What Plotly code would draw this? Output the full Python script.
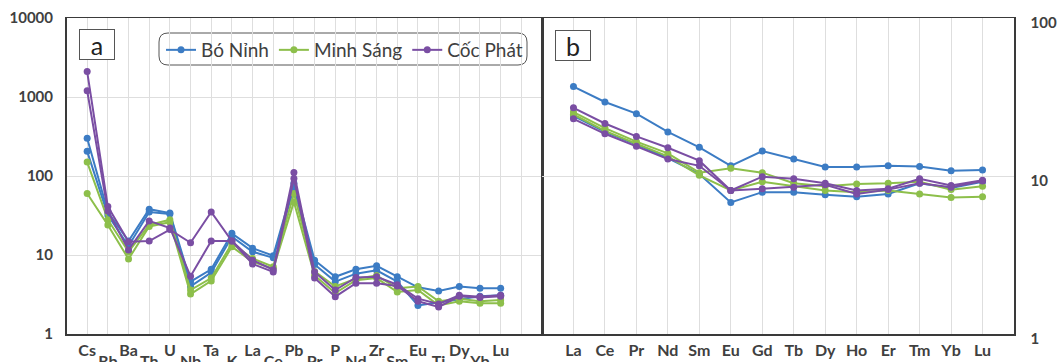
import plotly.graph_objects as go

# ---------------- data ----------------
spider_elements = ["Cs", "Rb", "Ba", "Th", "U", "Nb", "Ta", "K", "La", "Ce", "Pb",
                   "Pr", "P", "Nd", "Zr", "Sm", "Eu", "Ti", "Dy", "Yb", "Lu"]
ree_elements = ["La", "Ce", "Pr", "Nd", "Sm", "Eu", "Gd", "Tb", "Dy", "Ho", "Er", "Tm", "Yb", "Lu"]

group_names = ["Bó Nỉnh", "Minh Sáng", "Cốc Phát"]

# primitive-mantle normalised spider diagram (panel a)
bn_spider_1 = [300, 35, 15, 38, 34, 4.6, 6.6, 18.8, 12.2, 9.8, 81, 8.6, 5.3, 6.6, 7.3, 5.3, 3.9, 3.5, 4.0, 3.8, 3.8]
bn_spider_2 = [205, 32, 13, 35, 33, 4.0, 6.0, 17, 11, 9.2, 70, 7.6, 4.6, 5.8, 6.4, 4.6, 2.3, 2.5, 2.7, 3.0, 3.1]
ms_spider_1 = [150, 28, 11, 24, 28, 3.6, 5.1, 14, 9.0, 7.1, 60, 6.2, 4.0, 5.0, 5.5, 3.8, 4.0, 2.6, 2.8, 2.6, 2.7]
ms_spider_2 = [60, 24, 8.9, 23, 26, 3.2, 4.7, 12.7, 8.2, 6.7, 47, 5.5, 3.3, 4.8, 5.1, 3.4, 3.6, 2.3, 2.6, 2.45, 2.45]
cp_spider_1 = [2100, 41, 14.7, 15, 21, 14.3, 35, 15, 8.6, 6.5, 111, 6.1, 3.6, 5.2, 5.3, 4.2, 2.8, 2.4, 3.1, 2.97, 3.1]
cp_spider_2 = [1200, 36, 11.6, 27, 22, 5.4, 15, 15, 7.7, 6.1, 93, 5.1, 2.97, 4.4, 4.4, 4.05, 2.6, 2.2, 3.0, 2.9, 3.0]

# chondrite-normalised REE (panel b)
bn_ree_1 = [36.8, 29.4, 24.8, 19.0, 15.2, 11.6, 14.4, 12.8, 11.4, 11.4, 11.6, 11.5, 10.8, 10.9]
bn_ree_2 = [24.0, 19.0, 15.8, 13.0, 10.3, 6.8, 7.9, 7.9, 7.6, 7.4, 7.7, 9.0, 8.4, 9.2]
ms_ree_1 = [25.4, 20.1, 16.5, 13.9, 10.5, 11.2, 10.5, 9.0, 8.6, 8.9, 9.0, 9.2, 8.2, 8.6]
ms_ree_2 = [24.5, 19.3, 16.0, 13.3, 10.1, 8.1, 9.2, 8.6, 8.1, 7.9, 8.1, 7.7, 7.3, 7.4]
cp_ree_1 = [27.0, 21.5, 17.8, 15.1, 12.5, 8.1, 9.9, 9.6, 9.0, 8.1, 8.3, 9.6, 8.7, 9.4]
cp_ree_2 = [23.0, 18.5, 15.4, 12.8, 11.6, 8.1, 8.3, 8.5, 8.8, 7.7, 8.2, 9.0, 8.5, 9.3]

spider_ticks = [1, 10, 100, 1000, 10000]
ree_ticks = [1, 10, 100]

# ---------------- styling ----------------
colors = {"Bó Nỉnh": "#3c7cc4", "Minh Sáng": "#8dbf4b", "Cốc Phát": "#7a4ea3"}
FONT = "Lato, 'Open Sans', sans-serif"
TXT = "#404040"
GRID = "#dedede"
AXLINE = "#3a3a3a"
W, H = 1057, 362

spider_sets = {
    "Bó Nỉnh": [bn_spider_1, bn_spider_2],
    "Minh Sáng": [ms_spider_1, ms_spider_2],
    "Cốc Phát": [cp_spider_1, cp_spider_2],
}
ree_sets = {
    "Bó Nỉnh": [bn_ree_1, bn_ree_2],
    "Minh Sáng": [ms_ree_1, ms_ree_2],
    "Cốc Phát": [cp_ree_1, cp_ree_2],
}

spider_x = list(range(1, len(spider_elements) + 1))
ree_x = list(range(1, len(ree_elements) + 1))

fig = go.Figure()
for g in group_names:
    for i, vals in enumerate(spider_sets[g]):
        fig.add_trace(go.Scatter(
            x=spider_x, y=vals, mode="lines+markers", name=g, legendgroup=g,
            showlegend=(i == 0), line=dict(color=colors[g], width=2),
            marker=dict(color=colors[g], size=7), xaxis="x", yaxis="y"))
for g in group_names:
    for vals in ree_sets[g]:
        fig.add_trace(go.Scatter(
            x=ree_x, y=vals, mode="lines+markers", name=g, legendgroup=g,
            showlegend=False, line=dict(color=colors[g], width=2),
            marker=dict(color=colors[g], size=7), xaxis="x2", yaxis="y2"))

# carrier (draws nothing) so the staggered second row of element labels is rendered
fig.add_trace(go.Scatter(x=spider_x, y=[None] * len(spider_x), mode="markers",
                         showlegend=False, hoverinfo="skip", xaxis="x3", yaxis="y"))

def px_x(p):
    return p / W

def px_y(p):
    return 1 - p / H

xa0, xa1, xb1 = 66.5, 542, 1014
yt, yb = 18, 334
ydom = [px_y(yb), px_y(yt)]

tickfont = dict(family=FONT, size=15, color=TXT, weight="bold")
xtickfont = dict(family=FONT, size=16, color=TXT, weight="bold")

n_a = len(spider_elements)
grid_a = list(range(1, n_a + 2))
upper_text = [spider_elements[v - 1] if (v <= n_a and v % 2 == 1) else "" for v in grid_a]
lower_vals = [v for v in spider_x if v % 2 == 0]
lower_text = [spider_elements[v - 1] for v in lower_vals]

fig.update_layout(
    width=W, height=H, margin=dict(l=0, r=0, t=0, b=0, autoexpand=False),
    paper_bgcolor="white", plot_bgcolor="white",
    showlegend=True,
    xaxis=dict(domain=[px_x(xa0), px_x(xa1)], range=[0, n_a + 2], anchor="y",
               tickmode="array", tickvals=grid_a, ticktext=upper_text, automargin=False,
               showgrid=True, gridcolor=GRID, gridwidth=1, zeroline=False,
               showline=True, mirror=True, linecolor=AXLINE, linewidth=1.5,
               ticks="", tickfont=xtickfont, ticklabelstandoff=1),
    xaxis3=dict(overlaying="x", anchor="y", range=[0, n_a + 2], automargin=False,
                tickmode="array", tickvals=lower_vals, ticktext=lower_text,
                showgrid=False, zeroline=False, showline=False,
                ticks="", tickfont=xtickfont, ticklabelstandoff=16),
    yaxis=dict(domain=ydom, type="log", range=[0, 4], anchor="x", automargin=False,
               tickmode="array", tickvals=spider_ticks, ticktext=[str(v) for v in spider_ticks],
               showgrid=True, gridcolor=GRID, gridwidth=1, zeroline=False,
               showline=True, mirror=True, linecolor=AXLINE, linewidth=1.5,
               ticks="", tickfont=tickfont, ticklabelstandoff=9),
    xaxis2=dict(domain=[px_x(xa1), px_x(xb1)], range=[0, len(ree_elements) + 1], anchor="y2",
                tickmode="array", tickvals=ree_x, ticktext=ree_elements, automargin=False,
                showgrid=True, gridcolor=GRID, gridwidth=1, zeroline=False,
                showline=True, mirror=True, linecolor=AXLINE, linewidth=1.5,
                ticks="", tickfont=xtickfont, ticklabelstandoff=1),
    yaxis2=dict(domain=ydom, type="log", range=[0, 2], anchor="x2", side="right",
                tickmode="array", tickvals=ree_ticks, ticktext=[str(v) for v in ree_ticks],
                automargin=False,
                showgrid=True, gridcolor=GRID, gridwidth=1, zeroline=False,
                showline=True, mirror=True, linecolor=AXLINE, linewidth=1.5,
                ticks="", tickfont=tickfont, ticklabelstandoff=12, ticklabelshift=5),
    legend=dict(orientation="h", x=px_x(161), y=px_y(31), xanchor="left", yanchor="top",
                bgcolor="rgba(0,0,0,0)", borderwidth=0,
                font=dict(family=FONT, size=19, color=TXT), itemclick=False),
)

# rounded legend frame
lx0, lx1, ly0, ly1, r = 159, 527, 33, 65, 9
path = (f"M {px_x(lx0 + r)} {px_y(ly0)} L {px_x(lx1 - r)} {px_y(ly0)} "
        f"Q {px_x(lx1)} {px_y(ly0)} {px_x(lx1)} {px_y(ly0 + r)} "
        f"L {px_x(lx1)} {px_y(ly1 - r)} Q {px_x(lx1)} {px_y(ly1)} {px_x(lx1 - r)} {px_y(ly1)} "
        f"L {px_x(lx0 + r)} {px_y(ly1)} Q {px_x(lx0)} {px_y(ly1)} {px_x(lx0)} {px_y(ly1 - r)} "
        f"L {px_x(lx0)} {px_y(ly0 + r)} Q {px_x(lx0)} {px_y(ly0)} {px_x(lx0 + r)} {px_y(ly0)} Z")
fig.add_shape(type="path", path=path, xref="paper", yref="paper",
              line=dict(color="#555555", width=1), fillcolor="white", layer="below")

# panel letters
for letter, cx, cy in [("a", 97, 44.5), ("b", 573, 45.5)]:
    fig.add_annotation(text=letter, xref="paper", yref="paper", x=px_x(cx), y=px_y(cy),
                       xanchor="center", yanchor="middle", showarrow=False,
                       font=dict(family=FONT, size=25, color="#222222"),
                       width=34, height=29, borderpad=0,
                       bordercolor="#555555", borderwidth=1, bgcolor="white")

# remove the browser's default page margin so the figure sits at the window origin
fig.write_html("out.html", config={"displayModeBar": False, "staticPlot": True},
               post_script="document.body.style.margin='0';document.body.style.overflow='hidden';")
